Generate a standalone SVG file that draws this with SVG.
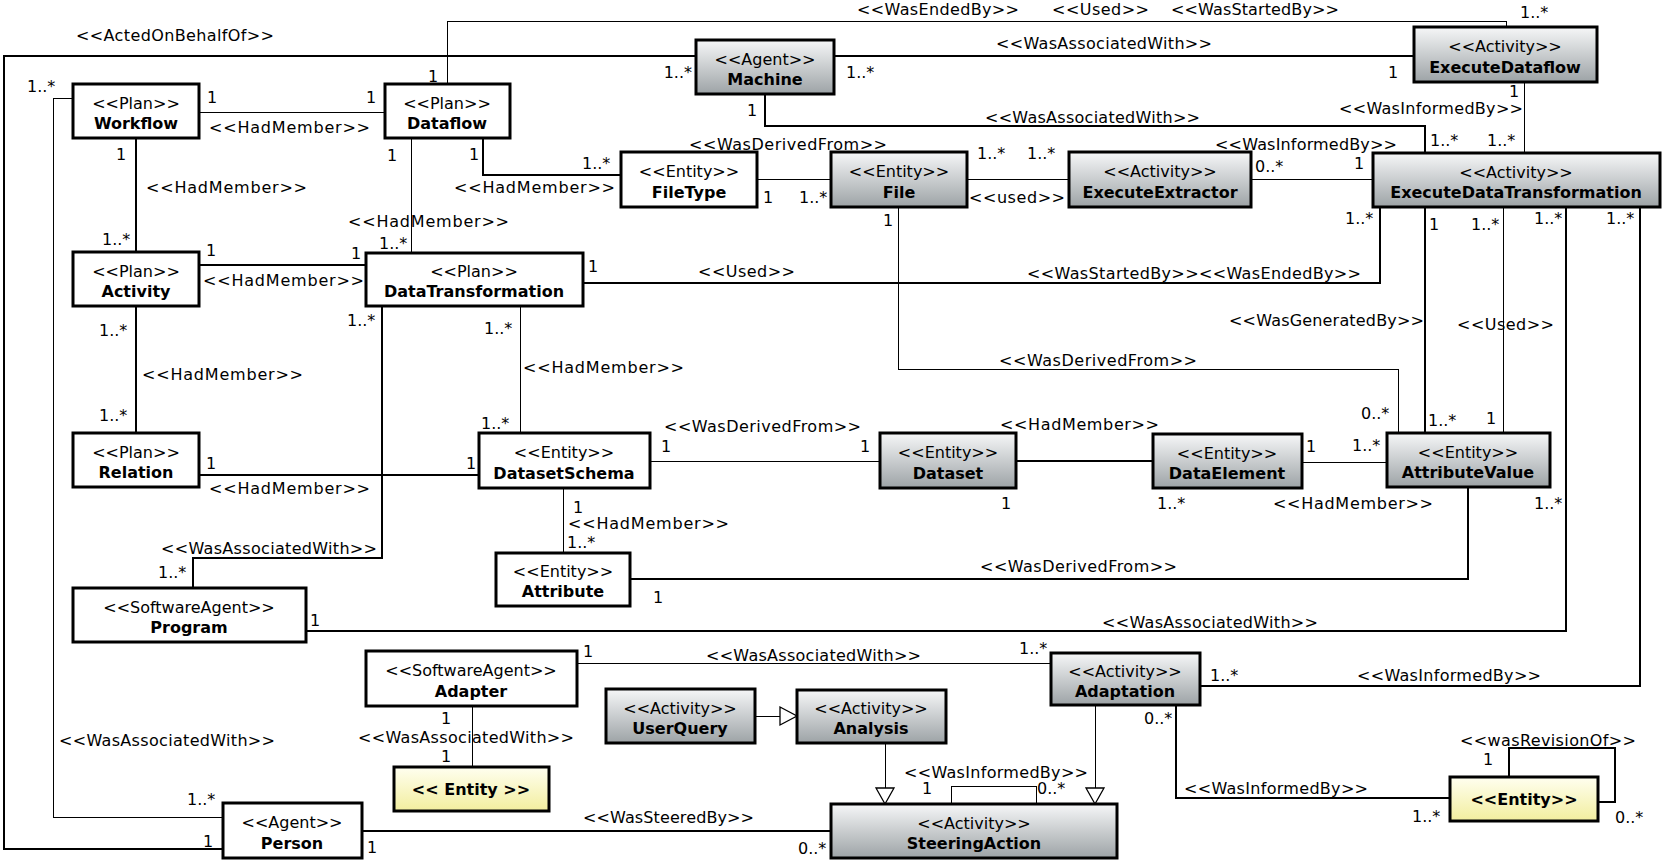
<svg xmlns="http://www.w3.org/2000/svg" width="1665" height="862" viewBox="0 0 1665 862">
<defs>
<linearGradient id="gray" x1="0" y1="0" x2="0" y2="1">
<stop offset="0" stop-color="#f6f7f8"/>
<stop offset="1" stop-color="#9da3a6"/>
</linearGradient>
<linearGradient id="yel" x1="0" y1="0" x2="0" y2="1">
<stop offset="0" stop-color="#fffff0"/>
<stop offset="1" stop-color="#f2ee9e"/>
</linearGradient>
<style>
.box{stroke:#000;stroke-width:3}
.w{fill:#fff}
.g{fill:url(#gray)}
.y{fill:url(#yel)}
text{font-family:"DejaVu Sans","Liberation Sans",sans-serif;font-size:16px;fill:#000}
.c{text-anchor:middle}
.b{font-weight:bold}
.m{text-anchor:middle}
#connectors polyline,#connectors line{fill:none;stroke:#000;shape-rendering:crispEdges}
.t1{stroke-width:1}
.t2{stroke-width:2}
.tri{fill:#fff;stroke:#000;stroke-width:1.3}
</style>
</defs>
<rect width="1665" height="862" fill="#fff"/>

<g id="connectors">
<polyline class="t2" points="696,56 4,56 4,849 223,849"/>
<polyline class="t1" points="447,84 447,21 1506,21 1506,27"/>
<line class="t1" x1="199" y1="112" x2="385" y2="112"/>
<line class="t2" x1="136" y1="138" x2="136" y2="252"/>
<line class="t1" x1="411" y1="138" x2="411" y2="253"/>
<polyline class="t2" points="483,138 483,175 621,175"/>
<line class="t2" x1="834" y1="56" x2="1414" y2="56"/>
<polyline class="t2" points="765,94 765,126 1425,126 1425,153"/>
<line class="t1" x1="1524" y1="82" x2="1524" y2="153"/>
<line class="t1" x1="757" y1="179" x2="831" y2="179"/>
<line class="t1" x1="967" y1="179" x2="1069" y2="179"/>
<line class="t1" x1="1251" y1="179" x2="1373" y2="179"/>
<polyline class="t2" points="583,283 1380,283 1380,207"/>
<line class="t2" x1="199" y1="265" x2="366" y2="265"/>
<line class="t2" x1="136" y1="306" x2="136" y2="433"/>
<polyline class="t2" points="382,306 382,558 193,558 193,588"/>
<line class="t1" x1="520" y1="306" x2="520" y2="433"/>
<line class="t2" x1="199" y1="475" x2="479" y2="475"/>
<polyline class="t1" points="898,207 898,369 1398,369 1398,433"/>
<line class="t1" x1="650" y1="461" x2="880" y2="461"/>
<line class="t2" x1="1016" y1="461" x2="1153" y2="461"/>
<line class="t1" x1="1302" y1="462" x2="1387" y2="462"/>
<line class="t2" x1="1425" y1="207" x2="1425" y2="433"/>
<line class="t1" x1="1503" y1="207" x2="1503" y2="433"/>
<line class="t1" x1="563" y1="488" x2="563" y2="553"/>
<polyline class="t2" points="1468,487 1468,579 630,579"/>
<polyline class="t2" points="306,631 1566,631 1566,207"/>
<polyline class="t2" points="1200,686 1640,686 1640,207"/>
<line class="t1" x1="577" y1="663" x2="1051" y2="663"/>
<line class="t1" x1="472" y1="706" x2="472" y2="767"/>
<polyline class="t1" points="73,98 53,98 53,817 223,817"/>
<line class="t2" x1="362" y1="831" x2="831" y2="831"/>
<line class="t1" x1="755" y1="716" x2="780" y2="716"/>
<polygon class="tri" points="780,707 797,716 780,725"/>
<line class="t1" x1="885" y1="743" x2="885" y2="788"/>
<polygon class="tri" points="876,788 894,788 885,804"/>
<line class="t1" x1="1095" y1="705" x2="1095" y2="788"/>
<polygon class="tri" points="1086,788 1104,788 1095,804"/>
<polyline class="t1" points="951,804 951,786 1036,786 1036,804"/>
<polyline class="t2" points="1176,705 1176,798 1450,798"/>
<polyline class="t2" points="1509,777 1509,748 1615,748 1615,802 1598,802"/>

<text x="76" y="41" textLength="198" lengthAdjust="spacing">&lt;&lt;ActedOnBehalfOf&gt;&gt;</text>
<text x="692" y="78" text-anchor="end">1..*</text>
<text class="m" x="208" y="847">1</text>

<text x="857" y="15" textLength="162" lengthAdjust="spacing">&lt;&lt;WasEndedBy&gt;&gt;</text>
<text x="1052" y="15" textLength="97" lengthAdjust="spacing">&lt;&lt;Used&gt;&gt;</text>
<text x="1171" y="15" textLength="168" lengthAdjust="spacing">&lt;&lt;WasStartedBy&gt;&gt;</text>
<text class="m" x="433" y="82">1</text>
<text x="1520" y="18">1..*</text>

<text class="m" x="212" y="103">1</text>
<text class="m" x="371" y="103">1</text>
<text x="209" y="133" textLength="161" lengthAdjust="spacing">&lt;&lt;HadMember&gt;&gt;</text>

<text class="m" x="121" y="160">1</text>
<text x="102" y="245">1..*</text>
<text x="146" y="193" textLength="161" lengthAdjust="spacing">&lt;&lt;HadMember&gt;&gt;</text>

<text class="m" x="392" y="161">1</text>
<text x="348" y="227" textLength="161" lengthAdjust="spacing">&lt;&lt;HadMember&gt;&gt;</text>
<text x="379" y="249">1..*</text>

<text class="m" x="474" y="160">1</text>
<text x="582" y="169">1..*</text>
<text x="454" y="193" textLength="161" lengthAdjust="spacing">&lt;&lt;HadMember&gt;&gt;</text>

<text x="846" y="78">1..*</text>
<text x="996" y="49" textLength="216" lengthAdjust="spacing">&lt;&lt;WasAssociatedWith&gt;&gt;</text>
<text class="m" x="1393" y="78">1</text>

<text class="m" x="752" y="116">1</text>
<text x="985" y="123" textLength="215" lengthAdjust="spacing">&lt;&lt;WasAssociatedWith&gt;&gt;</text>
<text x="1430" y="146">1..*</text>

<text class="m" x="1514" y="97">1</text>
<text x="1339" y="114" textLength="184" lengthAdjust="spacing">&lt;&lt;WasInformedBy&gt;&gt;</text>
<text x="1487" y="146">1..*</text>

<text class="m" x="768" y="203">1</text>
<text x="799" y="203">1..*</text>
<text x="689" y="150" textLength="198" lengthAdjust="spacing">&lt;&lt;WasDerivedFrom&gt;&gt;</text>

<text x="977" y="159">1..*</text>
<text x="1027" y="159">1..*</text>
<text x="969" y="203" textLength="96" lengthAdjust="spacing">&lt;&lt;used&gt;&gt;</text>

<text x="1255" y="172">0..*</text>
<text class="m" x="1359" y="169">1</text>
<text x="1215" y="150" textLength="182" lengthAdjust="spacing">&lt;&lt;WasInformedBy&gt;&gt;</text>

<text class="m" x="593" y="272">1</text>
<text x="698" y="277" textLength="97" lengthAdjust="spacing">&lt;&lt;Used&gt;&gt;</text>
<text x="1027" y="279" textLength="334" lengthAdjust="spacing">&lt;&lt;WasStartedBy&gt;&gt;&lt;&lt;WasEndedBy&gt;&gt;</text>
<text x="1345" y="224">1..*</text>

<text class="m" x="211" y="256">1</text>
<text class="m" x="356" y="259">1</text>
<text x="203" y="286" textLength="161" lengthAdjust="spacing">&lt;&lt;HadMember&gt;&gt;</text>

<text x="99" y="336">1..*</text>
<text x="99" y="421">1..*</text>
<text x="142" y="380" textLength="161" lengthAdjust="spacing">&lt;&lt;HadMember&gt;&gt;</text>

<text x="347" y="326">1..*</text>
<text x="161" y="554" textLength="216" lengthAdjust="spacing">&lt;&lt;WasAssociatedWith&gt;&gt;</text>
<text x="158" y="578">1..*</text>

<text x="484" y="334">1..*</text>
<text x="481" y="429">1..*</text>
<text x="523" y="373" textLength="161" lengthAdjust="spacing">&lt;&lt;HadMember&gt;&gt;</text>

<text class="m" x="211" y="469">1</text>
<text class="m" x="471" y="469">1</text>
<text x="209" y="494" textLength="161" lengthAdjust="spacing">&lt;&lt;HadMember&gt;&gt;</text>

<text class="m" x="888" y="226">1</text>
<text x="999" y="366" textLength="198" lengthAdjust="spacing">&lt;&lt;WasDerivedFrom&gt;&gt;</text>
<text x="1361" y="419">0..*</text>

<text class="m" x="666" y="452">1</text>
<text class="m" x="865" y="452">1</text>
<text x="664" y="432" textLength="197" lengthAdjust="spacing">&lt;&lt;WasDerivedFrom&gt;&gt;</text>

<text x="1000" y="430" textLength="159" lengthAdjust="spacing">&lt;&lt;HadMember&gt;&gt;</text>
<text class="m" x="1006" y="509">1</text>
<text x="1157" y="509">1..*</text>

<text class="m" x="1311" y="452">1</text>
<text x="1352" y="451">1..*</text>
<text x="1273" y="509" textLength="160" lengthAdjust="spacing">&lt;&lt;HadMember&gt;&gt;</text>

<text class="m" x="1434" y="230">1</text>
<text x="1428" y="426">1..*</text>
<text x="1229" y="326" textLength="195" lengthAdjust="spacing">&lt;&lt;WasGeneratedBy&gt;&gt;</text>

<text x="1471" y="230">1..*</text>
<text class="m" x="1491" y="424">1</text>
<text x="1457" y="330" textLength="97" lengthAdjust="spacing">&lt;&lt;Used&gt;&gt;</text>

<text class="m" x="578" y="513">1</text>
<text x="568" y="529" textLength="161" lengthAdjust="spacing">&lt;&lt;HadMember&gt;&gt;</text>
<text x="567" y="548">1..*</text>

<text x="1534" y="509">1..*</text>
<text x="980" y="572" textLength="197" lengthAdjust="spacing">&lt;&lt;WasDerivedFrom&gt;&gt;</text>
<text class="m" x="658" y="603">1</text>

<text class="m" x="315" y="626">1</text>
<text x="1102" y="628" textLength="216" lengthAdjust="spacing">&lt;&lt;WasAssociatedWith&gt;&gt;</text>
<text x="1534" y="224">1..*</text>

<text x="1210" y="681">1..*</text>
<text x="1357" y="681" textLength="184" lengthAdjust="spacing">&lt;&lt;WasInformedBy&gt;&gt;</text>
<text x="1606" y="224">1..*</text>

<text class="m" x="588" y="657">1</text>
<text x="706" y="661" textLength="215" lengthAdjust="spacing">&lt;&lt;WasAssociatedWith&gt;&gt;</text>
<text x="1019" y="654">1..*</text>

<text class="m" x="446" y="724">1</text>
<text x="358" y="743" textLength="216" lengthAdjust="spacing">&lt;&lt;WasAssociatedWith&gt;&gt;</text>
<text class="m" x="446" y="762">1</text>

<text x="27" y="92">1..*</text>
<text x="59" y="746" textLength="216" lengthAdjust="spacing">&lt;&lt;WasAssociatedWith&gt;&gt;</text>
<text x="187" y="805">1..*</text>

<text class="m" x="372" y="853">1</text>
<text x="583" y="823" textLength="171" lengthAdjust="spacing">&lt;&lt;WasSteeredBy&gt;&gt;</text>
<text x="798" y="854">0..*</text>

<text x="904" y="778" textLength="184" lengthAdjust="spacing">&lt;&lt;WasInformedBy&gt;&gt;</text>
<text class="m" x="927" y="794">1</text>
<text x="1037" y="794">0..*</text>

<text x="1144" y="724">0..*</text>
<text x="1184" y="794" textLength="184" lengthAdjust="spacing">&lt;&lt;WasInformedBy&gt;&gt;</text>
<text x="1412" y="822">1..*</text>

<text x="1460" y="746" textLength="176" lengthAdjust="spacing">&lt;&lt;wasRevisionOf&gt;&gt;</text>
<text class="m" x="1488" y="765">1</text>
<text x="1615" y="823">0..*</text>
</g>

<g id="Workflow"><rect class="box w" x="73" y="84" width="126" height="54"/><text class="c" x="136" y="109">&lt;&lt;Plan&gt;&gt;</text><text class="c b" x="136" y="129">Workflow</text></g>
<g id="Dataflow"><rect class="box w" x="385" y="84" width="125" height="54"/><text class="c" x="447" y="109">&lt;&lt;Plan&gt;&gt;</text><text class="c b" x="447" y="129">Dataflow</text></g>
<g id="Machine"><rect class="box g" x="696" y="40" width="138" height="54"/><text class="c" x="765" y="65">&lt;&lt;Agent&gt;&gt;</text><text class="c b" x="765" y="85">Machine</text></g>
<g id="ExecuteDataflow"><rect class="box g" x="1414" y="27" width="183" height="55"/><text class="c" x="1505" y="52">&lt;&lt;Activity&gt;&gt;</text><text class="c b" x="1505" y="73">ExecuteDataflow</text></g>
<g id="FileType"><rect class="box w" x="621" y="152" width="136" height="55"/><text class="c" x="689" y="177">&lt;&lt;Entity&gt;&gt;</text><text class="c b" x="689" y="198">FileType</text></g>
<g id="File"><rect class="box g" x="831" y="152" width="136" height="55"/><text class="c" x="899" y="177">&lt;&lt;Entity&gt;&gt;</text><text class="c b" x="899" y="198">File</text></g>
<g id="ExecuteExtractor"><rect class="box g" x="1069" y="152" width="182" height="55"/><text class="c" x="1160" y="177">&lt;&lt;Activity&gt;&gt;</text><text class="c b" x="1160" y="198">ExecuteExtractor</text></g>
<g id="ExecuteDataTransformation"><rect class="box g" x="1373" y="153" width="287" height="54"/><text class="c" x="1516" y="178">&lt;&lt;Activity&gt;&gt;</text><text class="c b" x="1516" y="198">ExecuteDataTransformation</text></g>
<g id="Activity"><rect class="box w" x="73" y="252" width="126" height="54"/><text class="c" x="136" y="277">&lt;&lt;Plan&gt;&gt;</text><text class="c b" x="136" y="297">Activity</text></g>
<g id="DataTransformation"><rect class="box w" x="366" y="253" width="217" height="53"/><text class="c" x="474" y="277">&lt;&lt;Plan&gt;&gt;</text><text class="c b" x="474" y="297">DataTransformation</text></g>
<g id="Relation"><rect class="box w" x="73" y="433" width="126" height="54"/><text class="c" x="136" y="458">&lt;&lt;Plan&gt;&gt;</text><text class="c b" x="136" y="478">Relation</text></g>
<g id="DatasetSchema"><rect class="box w" x="479" y="433" width="171" height="55"/><text class="c" x="564" y="458">&lt;&lt;Entity&gt;&gt;</text><text class="c b" x="564" y="479">DatasetSchema</text></g>
<g id="Dataset"><rect class="box g" x="880" y="433" width="136" height="55"/><text class="c" x="948" y="458">&lt;&lt;Entity&gt;&gt;</text><text class="c b" x="948" y="479">Dataset</text></g>
<g id="DataElement"><rect class="box g" x="1153" y="434" width="149" height="54"/><text class="c" x="1227" y="459">&lt;&lt;Entity&gt;&gt;</text><text class="c b" x="1227" y="479">DataElement</text></g>
<g id="AttributeValue"><rect class="box g" x="1387" y="433" width="163" height="54"/><text class="c" x="1468" y="458">&lt;&lt;Entity&gt;&gt;</text><text class="c b" x="1468" y="478">AttributeValue</text></g>
<g id="Attribute"><rect class="box w" x="496" y="553" width="134" height="53"/><text class="c" x="563" y="577">&lt;&lt;Entity&gt;&gt;</text><text class="c b" x="563" y="597">Attribute</text></g>
<g id="Program"><rect class="box w" x="73" y="588" width="233" height="54"/><text class="c" x="189" y="613">&lt;&lt;SoftwareAgent&gt;&gt;</text><text class="c b" x="189" y="633">Program</text></g>
<g id="Adapter"><rect class="box w" x="366" y="651" width="211" height="55"/><text class="c" x="471" y="676">&lt;&lt;SoftwareAgent&gt;&gt;</text><text class="c b" x="471" y="697">Adapter</text></g>
<g id="Entity1"><rect class="box y" x="394" y="767" width="155" height="44"/><text class="c b" x="471" y="795">&lt;&lt; Entity &gt;&gt;</text></g>
<g id="UserQuery"><rect class="box g" x="606" y="689" width="149" height="54"/><text class="c" x="680" y="714">&lt;&lt;Activity&gt;&gt;</text><text class="c b" x="680" y="734">UserQuery</text></g>
<g id="Analysis"><rect class="box g" x="797" y="690" width="149" height="53"/><text class="c" x="871" y="714">&lt;&lt;Activity&gt;&gt;</text><text class="c b" x="871" y="734">Analysis</text></g>
<g id="Adaptation"><rect class="box g" x="1051" y="653" width="149" height="52"/><text class="c" x="1125" y="677">&lt;&lt;Activity&gt;&gt;</text><text class="c b" x="1125" y="697">Adaptation</text></g>
<g id="SteeringAction"><rect class="box g" x="831" y="804" width="286" height="54"/><text class="c" x="974" y="829">&lt;&lt;Activity&gt;&gt;</text><text class="c b" x="974" y="849">SteeringAction</text></g>
<g id="Person"><rect class="box w" x="223" y="803" width="139" height="55"/><text class="c" x="292" y="828">&lt;&lt;Agent&gt;&gt;</text><text class="c b" x="292" y="849">Person</text></g>
<g id="Entity2"><rect class="box y" x="1450" y="777" width="148" height="44"/><text class="c b" x="1524" y="805">&lt;&lt;Entity&gt;&gt;</text></g>
</svg>
